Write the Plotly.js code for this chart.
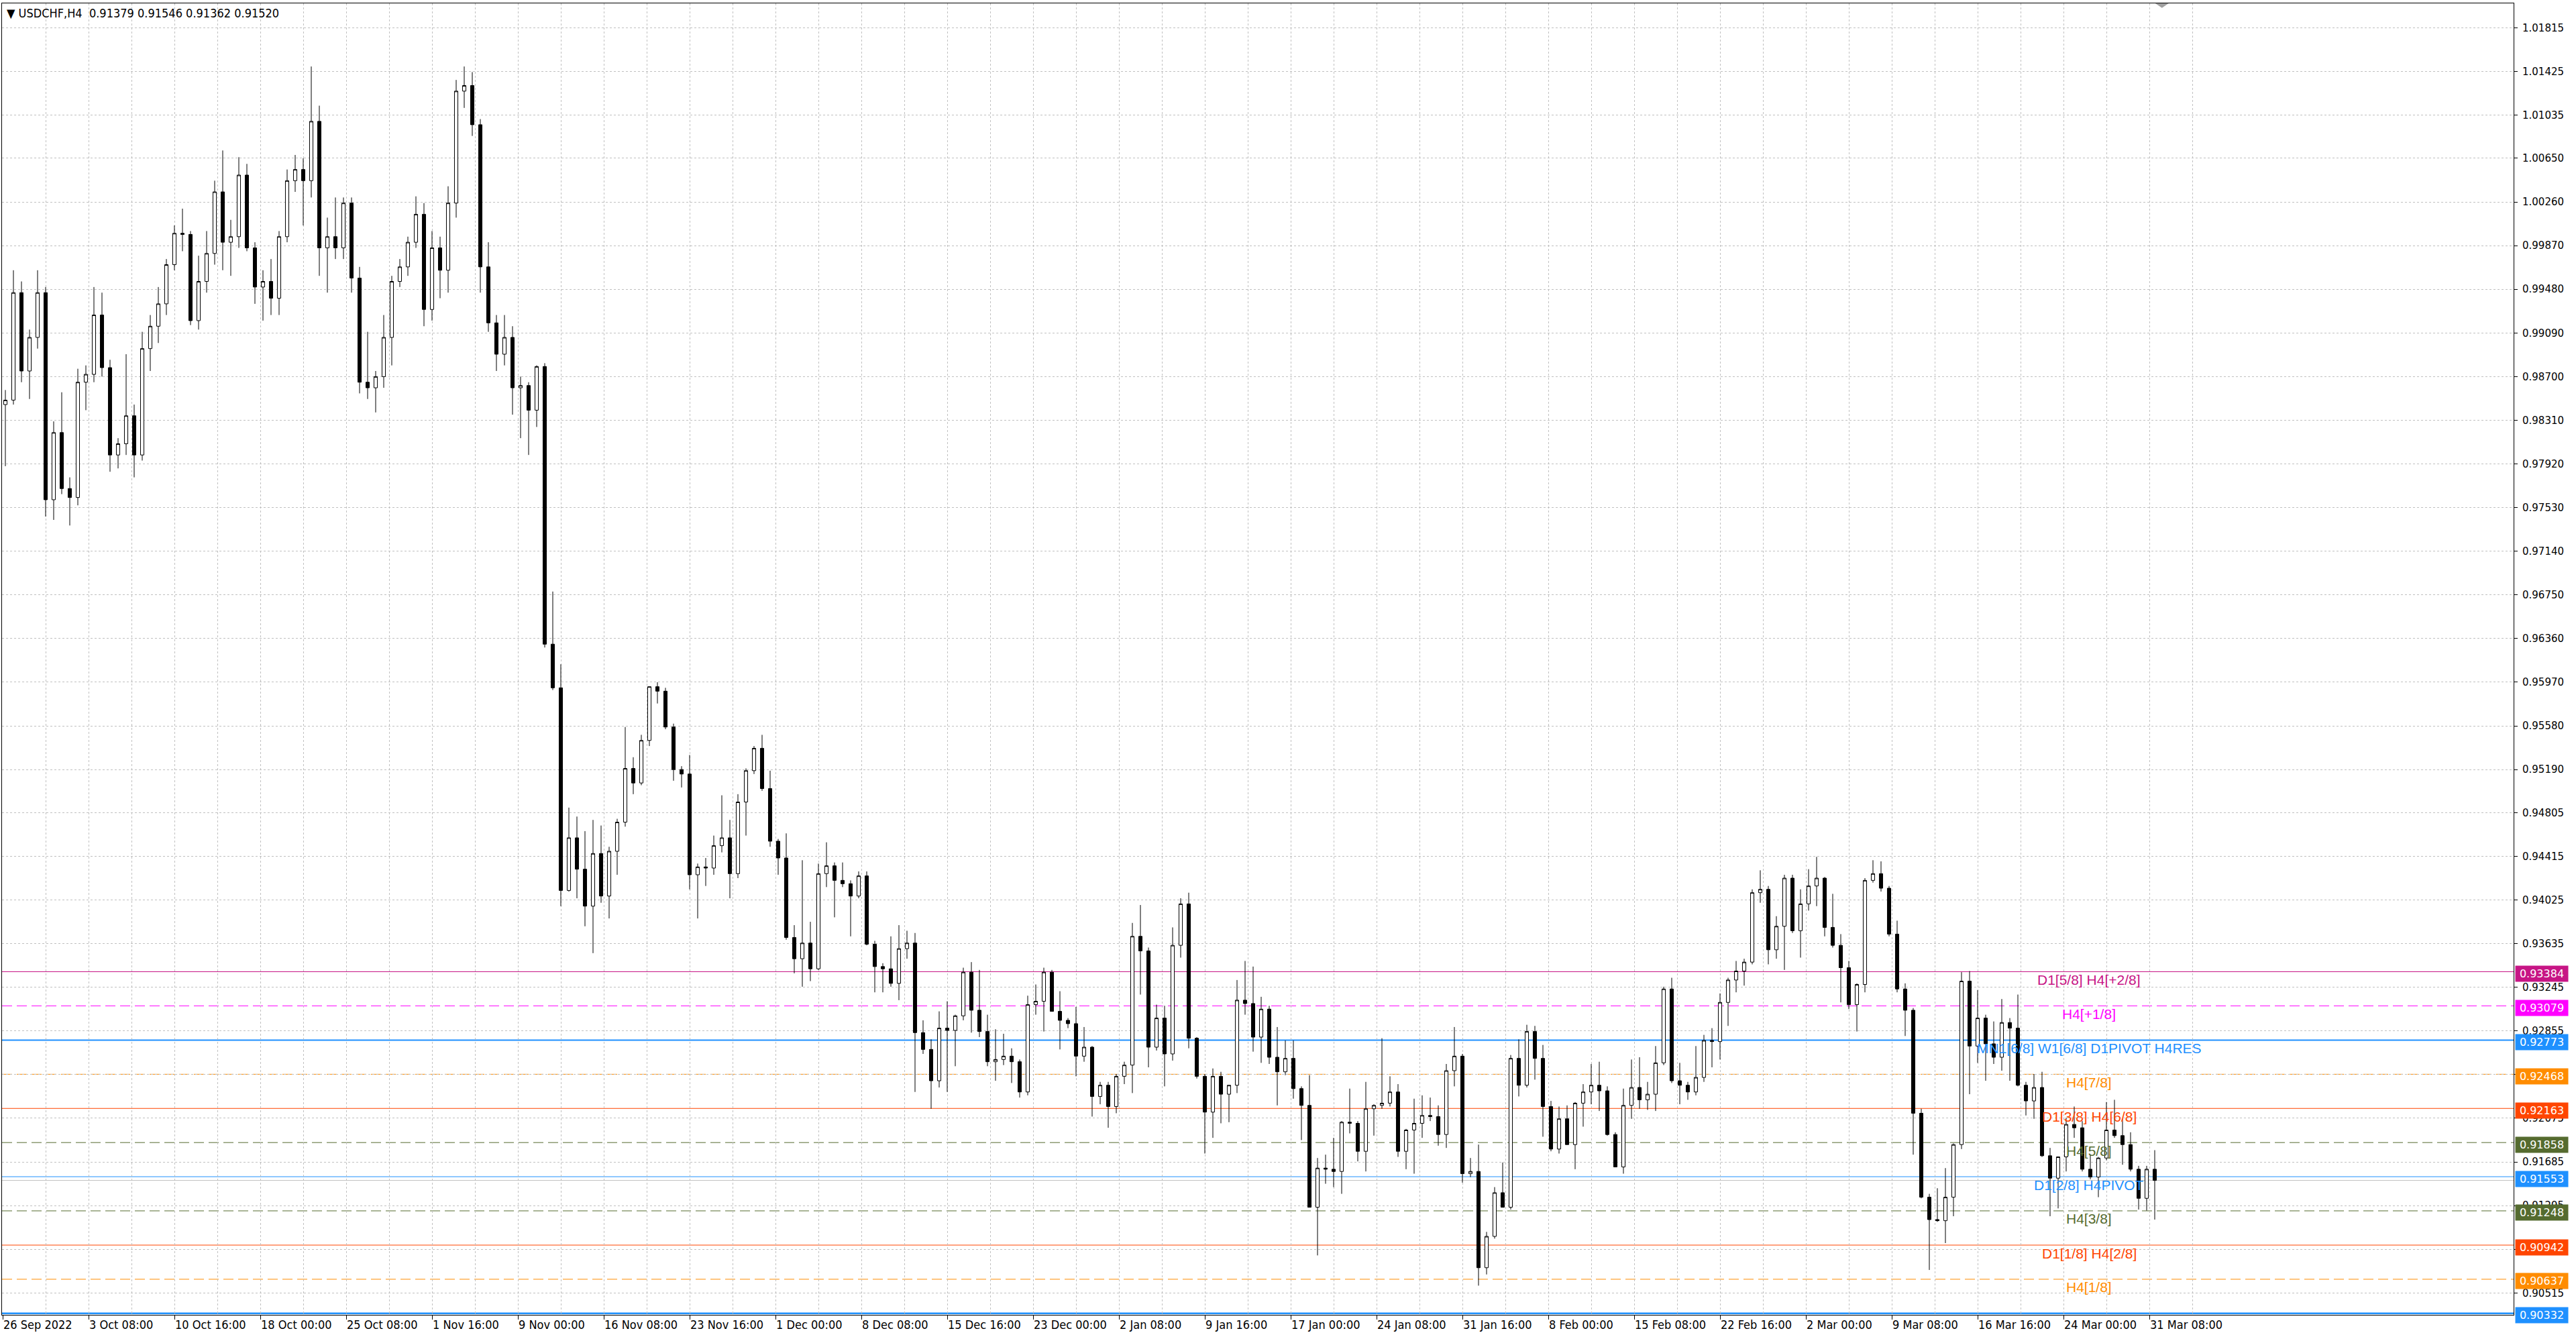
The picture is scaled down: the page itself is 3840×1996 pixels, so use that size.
<!DOCTYPE html>
<html><head><meta charset="utf-8">
<script src="https://cdn.plot.ly/plotly-3.0.1.min.js"></script>
<style>html,body{margin:0;padding:0;background:#fff;}#chart{width:3840px;height:1996px;}</style>
</head><body><div id="chart"></div>
<script>
// USDCHF, 12-hour candles (26 Sep 2022 - 31 Mar 2023)
const opens = [
0.9845,0.9849,0.9945,0.9875,0.9905,0.9945,0.9760,0.9820,0.9770,0.9762,
0.9865,0.9872,0.9925,0.9878,0.9800,0.9810,0.9835,0.9800,0.9895,0.9915,
0.9935,0.9970,0.9998,0.9997,0.9920,0.9955,0.9980,1.0035,0.9990,0.9995,
1.0050,0.9985,0.9950,0.9955,0.9940,0.9995,1.0045,1.0055,1.0045,1.0098,
0.9985,0.9995,0.9985,1.0025,0.9958,0.9865,0.9860,0.9870,0.9905,0.9955,
0.9968,0.9990,1.0015,0.9930,0.9985,0.9965,1.0025,1.0125,1.0130,1.0095,
0.9968,0.9918,0.9890,0.9905,0.9860,0.9862,0.9840,0.9879,0.9631,0.9592,
0.9411,0.9458,0.9430,0.9397,0.9444,0.9406,0.9446,0.9472,0.9520,0.9507,
0.9545,0.9593,0.9589,0.9557,0.9519,0.9515,0.9425,0.9432,0.9431,0.9451,
0.9458,0.9426,0.9490,0.9518,0.9538,0.9502,0.9455,0.9440,0.9369,0.9350,
0.9364,0.9341,0.9426,0.9433,0.9420,0.9417,0.9406,0.9424,0.9363,0.9343,
0.9341,0.9328,0.9359,0.9364,0.9284,0.9269,0.9241,0.9288,0.9286,0.9299,
0.9338,0.9304,0.9285,0.9258,0.9260,0.9263,0.9258,0.9231,0.9309,0.9312,
0.9338,0.9303,0.9295,0.9292,0.9263,0.9271,0.9227,0.9237,0.9218,0.9245,
0.9255,0.9370,0.9357,0.9271,0.9297,0.9265,0.9362,0.9399,0.9279,0.9245,
0.9213,0.9245,0.9229,0.9237,0.9313,0.9310,0.9280,0.9305,0.9262,0.9249,
0.9261,0.9234,0.9219,0.9128,0.9163,0.9162,0.9160,0.9204,0.9203,0.9178,
0.9216,0.9219,0.9221,0.9231,0.9178,0.9197,0.9203,0.9210,0.9209,0.9193,
0.9250,0.9263,0.9158,0.9160,0.9074,0.9102,0.9141,0.9128,0.9261,0.9237,
0.9285,0.9261,0.9218,0.9180,0.9207,0.9184,0.9221,0.9231,0.9237,0.9232,
0.9193,0.9164,0.9219,0.9235,0.9224,0.9229,0.9257,0.9323,0.9241,0.9237,
0.9231,0.9244,0.9277,0.9276,0.9311,0.9331,0.9339,0.9347,0.9409,0.9412,
0.9358,0.9379,0.9422,0.9375,0.9399,0.9415,0.9422,0.9378,0.9362,0.9342,
0.9309,0.9327,0.9420,0.9426,0.9413,0.9372,0.9323,0.9304,0.9212,0.9137,
0.9117,0.9116,0.9137,0.9184,0.9330,0.9272,0.9297,0.9274,0.9262,0.9293,
0.9288,0.9237,0.9223,0.9235,0.9174,0.9154,0.9173,0.9202,0.9199,0.9162,
0.9155,0.9172,0.9197,0.9192,0.9184,0.9162,0.9136,0.9162];
const highs = [
0.9858,0.9965,0.9955,0.9912,0.9965,0.9950,0.9830,0.9856,0.9780,0.9877,
0.9880,0.9950,0.9945,0.9885,0.9815,0.9890,0.9845,0.9910,0.9925,0.9950,
0.9975,1.0005,1.0020,1.0000,0.9978,1.0000,1.0045,1.0072,1.0010,1.0066,
1.0060,0.9990,0.9965,0.9975,1.0000,1.0055,1.0068,1.0065,1.0147,1.0112,
1.0012,1.0030,1.0030,1.0030,0.9968,0.9910,0.9875,0.9925,0.9960,0.9975,
0.9995,1.0031,1.0025,1.0000,0.9995,1.0040,1.0135,1.0147,1.0142,1.0100,
0.9990,0.9925,0.9925,0.9915,0.9870,0.9865,0.9880,0.9882,0.9678,0.9613,
0.9485,0.9477,0.9464,0.9474,0.9469,0.9450,0.9475,0.9557,0.9530,0.9550,
0.9593,0.9597,0.9592,0.9560,0.9522,0.9532,0.9435,0.9440,0.9460,0.9496,
0.9474,0.9497,0.9520,0.9540,0.9550,0.9518,0.9457,0.9462,0.9380,0.9438,
0.9383,0.9435,0.9454,0.9436,0.9436,0.9420,0.9428,0.9428,0.9366,0.9346,
0.9370,0.9380,0.9375,0.9373,0.9295,0.9278,0.9303,0.9312,0.9300,0.9342,
0.9347,0.9340,0.9300,0.9287,0.9283,0.9270,0.9260,0.9317,0.9327,0.9342,
0.9340,0.9321,0.9297,0.9307,0.9289,0.9272,0.9240,0.9240,0.9247,0.9258,
0.9382,0.9398,0.9360,0.9309,0.9308,0.9378,0.9404,0.9409,0.9280,0.9247,
0.9252,0.9249,0.9237,0.9331,0.9348,0.9343,0.9316,0.9308,0.9289,0.9277,
0.9277,0.9236,0.9246,0.9172,0.9175,0.9190,0.9205,0.9234,0.9205,0.9240,
0.9220,0.9279,0.9245,0.9238,0.9198,0.9225,0.9228,0.9226,0.9219,0.9256,
0.9289,0.9265,0.9172,0.9184,0.9106,0.9146,0.9168,0.9264,0.9278,0.9291,
0.9290,0.9273,0.9223,0.9218,0.9219,0.9222,0.9238,0.9256,0.9258,0.9236,
0.9195,0.9234,0.9260,0.9262,0.9240,0.9272,0.9325,0.9333,0.9257,0.9240,
0.9272,0.9282,0.9288,0.9319,0.9333,0.9348,0.9350,0.9412,0.9429,0.9415,
0.9388,0.9425,0.9425,0.9412,0.9430,0.9441,0.9423,0.9408,0.9372,0.9348,
0.9328,0.9422,0.9438,0.9437,0.9415,0.9384,0.9328,0.9306,0.9216,0.9140,
0.9145,0.9163,0.9185,0.9338,0.9339,0.9322,0.9300,0.9294,0.9314,0.9297,
0.9318,0.9240,0.9247,0.9249,0.9181,0.9173,0.9208,0.9218,0.9205,0.9175,
0.9173,0.9222,0.9224,0.9207,0.9195,0.9165,0.9165,0.9179];
const lows = [
0.9790,0.9845,0.9865,0.9850,0.9895,0.9745,0.9742,0.9765,0.9737,0.9755,
0.9840,0.9865,0.9870,0.9785,0.9788,0.9800,0.9780,0.9795,0.9875,0.9900,
0.9925,0.9965,0.9982,0.9916,0.9912,0.9945,0.9970,0.9965,0.9960,0.9985,
0.9982,0.9935,0.9920,0.9925,0.9925,0.9990,1.0035,1.0005,1.0030,0.9960,
0.9945,0.9975,0.9975,0.9945,0.9855,0.9850,0.9838,0.9860,0.9880,0.9950,
0.9960,0.9985,0.9915,0.9920,0.9940,0.9945,1.0012,1.0110,1.0085,0.9945,
0.9910,0.9875,0.9880,0.9836,0.9815,0.9800,0.9825,0.9628,0.9590,0.9397,
0.9410,0.9404,0.9379,0.9355,0.9400,0.9386,0.9425,0.9468,0.9497,0.9505,
0.9540,0.9578,0.9555,0.9509,0.9503,0.9412,0.9386,0.9415,0.9425,0.9445,
0.9404,0.9422,0.9460,0.9515,0.9500,0.9450,0.9425,0.9367,0.9337,0.9325,
0.9330,0.9340,0.9414,0.9387,0.9414,0.9370,0.9404,0.9362,0.9320,0.9320,
0.9325,0.9313,0.9350,0.9231,0.9265,0.9216,0.9235,0.9231,0.9254,0.9295,
0.9284,0.9280,0.9254,0.9241,0.9255,0.9239,0.9226,0.9228,0.9300,0.9285,
0.9303,0.9269,0.9288,0.9245,0.9258,0.9209,0.9220,0.9199,0.9212,0.9238,
0.9230,0.9318,0.9253,0.9268,0.9236,0.9259,0.9351,0.9270,0.9243,0.9176,
0.9190,0.9203,0.9204,0.9230,0.9300,0.9267,0.9257,0.9256,0.9219,0.9246,
0.9225,0.9188,0.9128,0.9085,0.9149,0.9146,0.9140,0.9194,0.9169,0.9160,
0.9192,0.9216,0.9218,0.9173,0.9162,0.9158,0.9190,0.9205,0.9183,0.9181,
0.9236,0.9150,0.9155,0.9058,0.9068,0.9100,0.9128,0.9126,0.9227,0.9235,
0.9242,0.9191,0.9178,0.9176,0.9184,0.9162,0.9200,0.9220,0.9214,0.9192,
0.9164,0.9158,0.9207,0.9216,0.9215,0.9214,0.9255,0.9239,0.9220,0.9224,
0.9228,0.9240,0.9253,0.9260,0.9290,0.9320,0.9326,0.9345,0.9400,0.9345,
0.9350,0.9340,0.9373,0.9351,0.9393,0.9397,0.9370,0.9360,0.9311,0.9305,
0.9285,0.9320,0.9418,0.9410,0.9370,0.9320,0.9281,0.9175,0.9136,0.9072,
0.9115,0.9096,0.9120,0.9180,0.9229,0.9257,0.9241,0.9256,0.9250,0.9241,
0.9236,0.9210,0.9207,0.9173,0.9120,0.9127,0.9160,0.9190,0.9160,0.9153,
0.9137,0.9170,0.9190,0.9166,0.9160,0.9126,0.9125,0.9117];
const closes = [
0.9849,0.9945,0.9875,0.9905,0.9945,0.9760,0.9820,0.9770,0.9762,0.9865,
0.9872,0.9925,0.9878,0.9800,0.9810,0.9835,0.9800,0.9895,0.9915,0.9935,
0.9970,0.9998,0.9997,0.9920,0.9955,0.9980,1.0035,0.9990,0.9995,1.0050,
0.9985,0.9950,0.9955,0.9940,0.9995,1.0045,1.0055,1.0045,1.0098,0.9985,
0.9995,0.9985,1.0025,0.9958,0.9865,0.9860,0.9870,0.9905,0.9955,0.9968,
0.9990,1.0015,0.9930,0.9985,0.9965,1.0025,1.0125,1.0130,1.0095,0.9968,
0.9918,0.9890,0.9905,0.9860,0.9862,0.9840,0.9879,0.9631,0.9592,0.9411,
0.9458,0.9430,0.9397,0.9444,0.9406,0.9446,0.9472,0.9520,0.9507,0.9545,
0.9593,0.9589,0.9557,0.9519,0.9515,0.9425,0.9432,0.9431,0.9451,0.9458,
0.9426,0.9490,0.9518,0.9538,0.9502,0.9455,0.9440,0.9369,0.9350,0.9364,
0.9341,0.9426,0.9433,0.9420,0.9417,0.9406,0.9424,0.9363,0.9343,0.9341,
0.9328,0.9359,0.9364,0.9284,0.9269,0.9241,0.9288,0.9286,0.9299,0.9338,
0.9304,0.9285,0.9258,0.9260,0.9263,0.9258,0.9231,0.9309,0.9312,0.9338,
0.9303,0.9295,0.9292,0.9263,0.9271,0.9227,0.9237,0.9218,0.9245,0.9255,
0.9370,0.9357,0.9271,0.9297,0.9265,0.9362,0.9399,0.9279,0.9245,0.9213,
0.9245,0.9229,0.9237,0.9313,0.9310,0.9280,0.9305,0.9262,0.9249,0.9261,
0.9234,0.9219,0.9128,0.9163,0.9162,0.9160,0.9204,0.9203,0.9178,0.9216,
0.9219,0.9221,0.9231,0.9178,0.9197,0.9203,0.9210,0.9209,0.9193,0.9250,
0.9263,0.9158,0.9160,0.9074,0.9102,0.9141,0.9128,0.9261,0.9237,0.9285,
0.9261,0.9218,0.9180,0.9207,0.9184,0.9221,0.9231,0.9237,0.9232,0.9193,
0.9164,0.9219,0.9235,0.9224,0.9229,0.9257,0.9323,0.9241,0.9237,0.9231,
0.9244,0.9277,0.9276,0.9311,0.9331,0.9339,0.9347,0.9409,0.9412,0.9358,
0.9379,0.9422,0.9375,0.9399,0.9415,0.9422,0.9378,0.9362,0.9342,0.9309,
0.9327,0.9420,0.9426,0.9413,0.9372,0.9323,0.9304,0.9212,0.9137,0.9117,
0.9116,0.9137,0.9184,0.9330,0.9272,0.9297,0.9274,0.9262,0.9293,0.9288,
0.9237,0.9223,0.9235,0.9174,0.9154,0.9173,0.9202,0.9199,0.9162,0.9155,
0.9172,0.9197,0.9192,0.9184,0.9162,0.9136,0.9162,0.9152];

const timeLabels = ["26 Sep 2022","3 Oct 08:00","10 Oct 16:00","18 Oct 00:00","25 Oct 08:00","1 Nov 16:00",
"9 Nov 00:00","16 Nov 08:00","23 Nov 16:00","1 Dec 00:00","8 Dec 08:00","15 Dec 16:00","23 Dec 00:00",
"2 Jan 08:00","9 Jan 16:00","17 Jan 00:00","24 Jan 08:00","31 Jan 16:00","8 Feb 00:00","15 Feb 08:00",
"22 Feb 16:00","2 Mar 00:00","9 Mar 08:00","16 Mar 16:00","24 Mar 00:00","31 Mar 08:00"];
const priceTicks = [1.01815,1.01425,1.01035,1.00650,1.00260,0.99870,0.99480,0.99090,0.98700,0.98310,
0.97920,0.97530,0.97140,0.96750,0.96360,0.95970,0.95580,0.95190,0.94805,0.94415,0.94025,0.93635,
0.93245,0.92855,0.92465,0.92075,0.91685,0.91295,0.90905,0.90515];

const levelValues = [0.93384,0.93079,0.92773,0.92468,0.92163,0.91858,0.91553,0.91248,0.90942,0.90637,0.90332];
const levelNames = ["D1[5/8] H4[+2/8]","H4[+1/8]","MN1[6/8] W1[6/8] D1PIVOT H4RES","H4[7/8]","D1[3/8] H4[6/8]",
"H4[5/8]","D1[2/8] H4PIVOT","H4[3/8]","D1[1/8] H4[2/8]","H4[1/8]",""];
const levelColors = ["#C71585","#FF00FF","#1E90FF","#FF8C00","#FF4500","#556B2F","#1E90FF","#556B2F","#FF4500","#FF8C00","#1E90FF"];
const levelDashed = [false,true,false,true,false,true,false,true,false,true,false];
const levelWidths = [1,1,2,1,1,1,1,1,1,1,2.5];
const bidPrice = 0.91520;
const headerText = "\u25BC USDCHF,H4\u00a0\u00a00.91379 0.91546 0.91362 0.91520";

// positions on the bar-index axis (one H4 bar = 1 unit, each candle spans 3 bars)
const candleX = opens.map((_, k) => 3 * k + 1);
const tickBars = timeLabels.map((_, j) => 32 * j);
const midBars = tickBars.map(v => v + 16);

const grid = '#c0c0c0';
const trace = {
  type: 'candlestick', x: candleX, open: opens, high: highs, low: lows, close: closes,
  increasing: {line: {color: '#000', width: 1}, fillcolor: '#ffffff'},
  decreasing: {line: {color: '#000', width: 1}, fillcolor: '#000000'},
  whiskerwidth: 0, hoverinfo: 'skip', showlegend: false
};

const shapes = [];
const annotations = [];
levelValues.forEach((v, j) => {
  shapes.push({type: 'line', xref: 'paper', x0: 0, x1: 1, yref: 'y', y0: v, y1: v,
    line: {color: levelColors[j], width: levelWidths[j], dash: levelDashed[j] ? '15px,7px' : 'solid'}, layer: 'below'});
  if (levelNames[j]) {
    annotations.push({xref: 'x', x: 777.5, yref: 'y', y: v, yanchor: 'middle', xanchor: 'center', yshift: -12,
      text: levelNames[j], showarrow: false, font: {family: 'Liberation Sans, Arial', size: 21, color: levelColors[j]}});
  }
  annotations.push({xref: 'paper', x: 1, xanchor: 'left', xshift: 2, yref: 'y', y: v, yanchor: 'middle', yshift: -3,
    text: v.toFixed(5), showarrow: false, bgcolor: levelColors[j], width: 76, height: 21, borderpad: 1,
    font: {family: 'DejaVu Sans', size: 16, color: '#ffffff'}});
});
shapes.push({type: 'line', xref: 'paper', x0: 0, x1: 1, yref: 'y', y0: bidPrice, y1: bidPrice,
  line: {color: '#c0c0c0', width: 1}, layer: 'below'});
// chart-shift marker
shapes.push({type: 'path', xref: 'x', yref: 'paper', path: 'M 802.2 1 L 807.2 1 L 804.7 0.9965 Z',
  fillcolor: '#a0a0a0', line: {width: 0}});

timeLabels.forEach((t, j) => {
  annotations.push({xref: 'x', x: tickBars[j], xanchor: 'left', xshift: -1, yref: 'paper', y: 0, yanchor: 'top', yshift: -2,
    text: t, showarrow: false, font: {family: 'DejaVu Sans Condensed', size: 18, color: '#000'}});
});
annotations.push({xref: 'paper', x: 0, xanchor: 'left', xshift: 5, yref: 'paper', y: 1, yanchor: 'top', yshift: -2,
  text: headerText, showarrow: false, font: {family: 'DejaVu Sans Condensed', size: 18, color: '#000'}});

const layout = {
  width: 3840, height: 1996,
  margin: {l: 3, r: 93, t: 5, b: 36, pad: 0},
  paper_bgcolor: '#ffffff', plot_bgcolor: '#ffffff',
  showlegend: false, boxgap: 0.4,
  font: {family: 'DejaVu Sans', size: 15, color: '#000'},
  xaxis: {
    range: [-0.25, 935.75], rangeslider: {visible: false}, fixedrange: true,
    tickmode: 'array', tickvals: tickBars, showticklabels: false,
    ticks: 'outside', ticklen: 6, tickcolor: '#000', tickwidth: 1,
    showgrid: true, gridcolor: grid, griddash: '3px,3px', gridwidth: 1,
    minor: {tickmode: 'array', tickvals: midBars, showgrid: true, gridcolor: grid, griddash: '3px,3px', gridwidth: 1, ticks: ''},
    showline: true, linecolor: '#000', linewidth: 1, mirror: true, zeroline: false
  },
  yaxis: {
    side: 'right', range: [0.90319, 1.02034], fixedrange: true,
    tickmode: 'array', tickvals: priceTicks, ticktext: priceTicks.map(v => v.toFixed(5)),
    ticks: 'outside', ticklen: 5, tickcolor: '#000', ticklabelstandoff: 4,
    tickfont: {family: 'DejaVu Sans', size: 15, color: '#000'},
    showgrid: true, gridcolor: grid, griddash: '3px,3px', gridwidth: 1,
    showline: true, linecolor: '#000', linewidth: 1, mirror: true, zeroline: false
  },
  shapes: shapes, annotations: annotations
};
Plotly.newPlot('chart', [trace], layout, {staticPlot: true, displayModeBar: false});
</script></body></html>
